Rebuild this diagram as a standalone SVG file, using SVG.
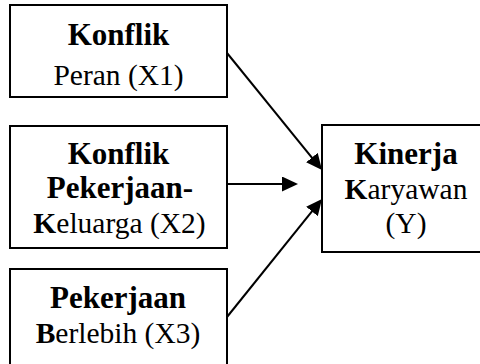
<svg xmlns="http://www.w3.org/2000/svg" width="480" height="364" viewBox="0 0 480 364">
  <style>
    .box { fill: #ffffff; stroke: #000000; stroke-width: 2; }
    .lbl { font-family: "Liberation Serif", "Times New Roman", serif; font-size: 29.5px; fill: #000000; text-anchor: middle; }
    .head { font-weight: bold; font-size: 31px; }
    .b { font-weight: bold; }
    .edge { stroke: #000000; stroke-width: 2; fill: none; marker-end: url(#head); }
  </style>
  <defs>
    <marker id="head" markerUnits="userSpaceOnUse" markerWidth="16" markerHeight="15" refX="8" refY="7.5" orient="auto">
      <path d="M0,0 L16,7.5 L0,15 Z" fill="#000000"/>
    </marker>
  </defs>

  <rect width="480" height="364" fill="#ffffff"/>

  <g id="x1">
    <rect class="box" x="10" y="5" width="217" height="92"/>
    <text class="lbl head" x="118.5" y="45">Konflik</text>
    <text class="lbl" x="118.5" y="85">Peran (X1)</text>
  </g>

  <g id="x2">
    <rect class="box" x="10" y="126" width="217" height="122"/>
    <text class="lbl head" x="118.5" y="164">Konflik</text>
    <text class="lbl head" x="120" y="198">Pekerjaan-</text>
    <text class="lbl" x="119.5" y="233"><tspan class="b">K</tspan>eluarga (X2)</text>
  </g>

  <g id="x3">
    <rect class="box" x="10" y="269" width="217" height="100"/>
    <text class="lbl head" x="118" y="308">Pekerjaan</text>
    <text class="lbl" x="118" y="343"><tspan class="b">B</tspan>erlebih (X3)</text>
  </g>

  <g id="y">
    <rect class="box" x="322" y="125" width="165" height="127"/>
    <text class="lbl head" x="406" y="164">Kinerja</text>
    <text class="lbl" x="406" y="199"><tspan class="b">K</tspan>aryawan</text>
    <text class="lbl" x="406" y="233">(Y)</text>
  </g>

  <g id="connectors">
    <line class="edge" x1="227" y1="53" x2="316.96" y2="163.79"/>
    <line class="edge" x1="227" y1="184" x2="290" y2="184"/>
    <line class="edge" x1="227" y1="317" x2="316.98" y2="205.23"/>
  </g>
</svg>
